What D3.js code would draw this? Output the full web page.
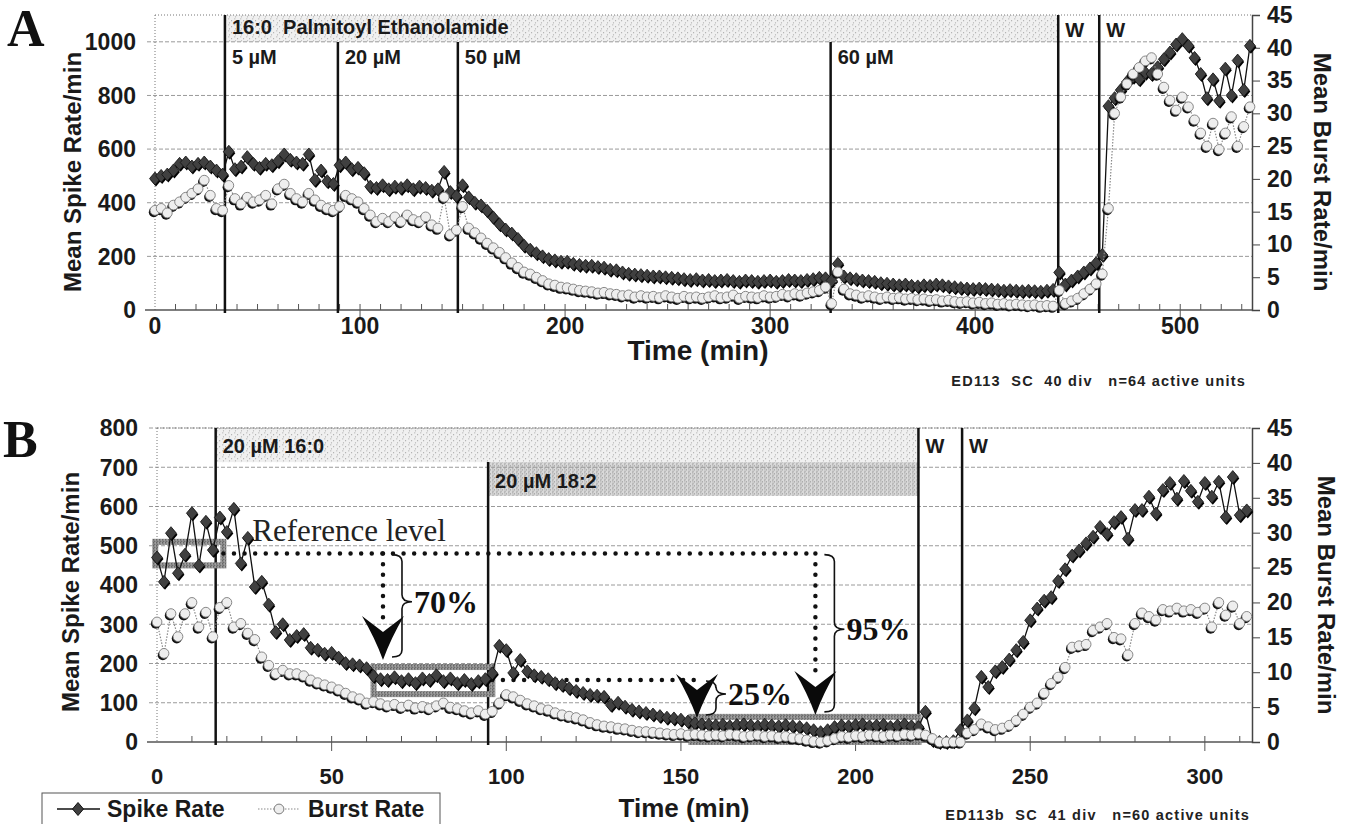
<!DOCTYPE html>
<html>
<head>
<meta charset="utf-8">
<script src="https://cdn.jsdelivr.net/npm/d3@7"></script>
<style>
  body { margin: 0; background: #fff; }
  svg { display: block; font-family: "Liberation Sans", Arial, Helvetica, sans-serif; }
</style>
</head>
<body>
<div class="chart"></div>
<script>
// ---------------- data ----------------
// panel A: one sample every 3 min, panel B: one sample every 2 min
var stepA = 3;
var stepB = 2;

// Panel A spike rate (left axis, spikes/min), t = 0 .. 534
var spikeA = [490,500,505,520,545,550,535,545,550,535,
  520,505,590,525,535,570,545,530,545,540,
  555,580,560,550,545,580,485,520,480,470,
  540,550,525,530,510,460,455,465,450,460,
  455,465,450,460,455,445,450,515,440,425,
  465,420,400,390,370,345,320,300,285,265,
  240,225,212,200,190,185,180,180,172,168,
  165,165,160,158,150,148,140,135,132,130,
  128,125,125,122,120,118,115,112,115,110,
  112,108,110,112,108,105,110,108,105,108,
  110,105,108,112,110,108,112,115,120,118,
  110,172,125,118,115,110,108,105,100,98,
  95,92,95,90,88,92,90,95,92,88,
  85,82,80,78,80,78,76,75,72,74,
  72,70,72,70,68,72,75,140,95,110,
  125,140,155,175,205,760,790,820,850,870,
  860,885,880,905,935,960,990,1010,985,940,
  880,790,860,780,900,800,930,820,985];

// Panel A burst rate (right axis, bursts/min)
var burstA = [15.2,15.5,14.8,16.0,16.5,17.2,17.8,18.5,19.8,17.5,
  15.5,15.2,19.0,17.0,16.2,17.2,16.5,16.8,17.5,16.2,
  18.5,19.2,17.8,17.0,16.5,17.8,16.8,16.0,15.5,15.2,
  15.8,17.5,17.0,16.5,15.5,14.5,13.5,14.0,13.5,14.2,
  13.5,14.5,13.8,13.5,14.2,13.0,12.5,17.2,11.5,12.2,
  15.8,12.5,11.8,11.0,10.2,9.5,8.8,8.0,7.2,6.5,
  5.8,5.5,5.0,4.5,4.0,3.8,3.5,3.4,3.2,3.0,
  2.9,2.8,2.6,2.7,2.5,2.4,2.2,2.3,2.0,2.2,
  2.0,2.1,1.9,2.2,2.0,1.8,2.1,1.9,2.0,1.8,
  2.0,2.2,1.9,2.0,2.3,1.8,2.1,2.0,1.9,2.2,
  2.0,2.1,2.4,2.2,2.5,2.3,2.6,2.8,3.0,3.5,
  1.0,5.8,3.2,2.5,2.3,2.0,2.2,2.0,1.8,2.0,
  1.8,1.9,1.7,1.8,1.6,1.7,1.5,1.6,1.4,1.5,
  1.3,1.2,1.3,1.1,1.2,1.0,1.1,0.9,1.0,0.8,
  0.9,0.8,0.7,0.8,0.6,0.7,0.6,3.0,1.0,1.4,
  1.8,2.5,3.2,4.0,5.5,15.5,30.0,32.5,34.5,36.0,
  37.0,38.0,38.5,36.0,34.0,32.0,30.5,32.5,31.0,29.0,
  27.0,25.0,28.5,24.5,27.0,29.5,25.0,28.0,31.0];

// Panel B spike rate, t = 0 .. 312
var spikeB = [470,408,532,430,477,583,450,561,489,572,
  535,594,455,520,395,408,350,280,300,260,
  270,275,240,235,225,227,215,201,198,195,
  188,168,160,158,165,155,160,150,162,158,
  170,155,162,150,158,148,155,160,175,245,
  234,176,209,180,170,166,160,150,145,137,
  130,125,120,118,115,94,100,90,82,78,
  74,70,66,62,60,57,52,48,45,44,
  42,44,40,43,45,42,40,44,42,40,
  43,40,38,35,30,25,30,38,42,40,
  43,45,40,42,44,38,42,45,40,38,
  77,5,0,0,2,30,55,86,166,140,
  180,191,210,234,255,310,340,360,369,410,
  440,475,488,506,523,548,530,560,573,518,
  591,591,625,582,642,660,620,665,640,612,
  660,625,663,573,675,578,590];

// Panel B burst rate
var burstB = [17.2,12.7,18.4,15.1,18.4,20.0,16.5,18.6,15.1,19.3,
  20.0,16.5,17.0,15.6,14.7,12.2,11.0,9.8,10.3,9.8,
  9.8,9.5,8.9,8.5,8.2,7.9,7.5,7.0,6.5,6.2,
  5.6,5.8,5.5,5.2,5.4,5.0,5.3,4.9,5.1,4.8,
  5.2,5.6,5.0,4.8,4.5,4.2,4.5,4.0,4.4,5.6,
  6.8,6.5,6.0,5.5,5.2,4.8,4.6,4.2,3.9,3.7,
  3.5,3.2,2.8,2.5,2.3,2.2,2.0,1.9,1.7,1.5,
  1.5,1.4,1.3,1.2,1.1,1.2,1.0,1.1,1.0,0.9,
  1.0,0.9,1.1,1.0,0.8,0.9,1.0,0.8,0.9,0.7,
  0.8,0.6,0.5,0.3,0.1,0.0,0.2,0.5,0.8,0.7,
  0.9,0.8,1.0,0.9,0.8,1.0,0.9,1.1,1.0,1.2,
  1.0,0.5,0.0,0.0,0.0,0.0,1.3,1.8,2.6,2.2,
  1.8,2.0,2.4,3.1,4.0,5.0,5.6,7.0,8.4,9.3,
  10.7,13.6,13.8,14.0,16.0,16.5,17.0,15.0,14.8,12.5,
  17.0,18.5,18.0,17.5,19.0,18.8,19.2,18.8,19.0,18.6,
  19.2,16.5,20.0,18.2,19.5,17.0,18.0];

// drug applications / washes (min) and their labels
var eventsA = [34.1, 89.2, 147.7, 329.5, 440.5, 460.5];
var eventLabelsA = ["5 µM", "20 µM", "50 µM", "60 µM", "W", "W"];
var eventsB = [16.8, 94.8, 218, 230.5];
var eventLabelsB = ["20 µM 16:0", "20 µM 18:2", "W", "W"];

// tick values
var leftTicksA = [0, 200, 400, 600, 800, 1000];
var leftTicksB = [0, 100, 200, 300, 400, 500, 600, 700, 800];
var rightTicks = [0, 5, 10, 15, 20, 25, 30, 35, 40, 45];
var xTicksA = [0, 100, 200, 300, 400, 500];
var xTicksB = [0, 50, 100, 150, 200, 250, 300];

// panel B annotation: boxes [t0, t1, low, high], reference levels [t0, t1, value]
var boxesB = [[-0.5, 19, 450, 510], [62, 96, 122, 191], [153, 218, 0, 64]];
var levelsB = [[19, 188.5, 480], [96, 154.6, 158]];
var dropT = [64.7, 154.6, 188.5];
var dropFrom = [480, 158, 480];
var dropTo = [209, 61, 69];
var dropPct = ["70%", "25%", "95%"];

// ---------------- drawing ----------------
var svg = d3.select(".chart").append("svg")
  .attr("width", 1353)
  .attr("height", 824);

var defs = svg.append("defs");

// speckled grey like the scanned print
function stipple(id, base, dot, size) {
  var p = defs.append("pattern")
    .attr("id", id)
    .attr("width", size).attr("height", size)
    .attr("patternUnits", "userSpaceOnUse");
  p.append("rect").attr("width", size).attr("height", size).attr("fill", base);
  [[0.8, 0.8], [size * 0.6, size * 0.45], [size * 0.25, size * 0.8]].forEach(function(c) {
    p.append("circle").attr("cx", c[0]).attr("cy", c[1]).attr("r", 0.6).attr("fill", dot);
  });
}
stipple("lightStip", "#f0f0f0", "#a9a9a9", 6);
stipple("darkStip", "#d9d9d9", "#8f8f8f", 4);
stipple("boxStip", "#a0a0a0", "#555", 3);

var serif = "'Liberation Serif', 'DejaVu Serif', 'Times New Roman', serif";
var ink = "#1a1a1a";

// squat diamond marker like the plotted one
var diamondPath = "M0,-6.5L5.5,0L0,6.5L-5.5,0Z";

function drawPanel(p) {
  var g = svg.append("g");

  var x = d3.scaleLinear().domain(p.xDomain).range([p.left, p.right]);
  var yL = d3.scaleLinear().domain(p.yDomain).range([p.bottom, p.top]);
  var yR = d3.scaleLinear().domain([0, 45]).range([p.bottom, p.top]);

  // shaded treatment bands at the top
  p.bands.forEach(function(b) {
    g.append("rect")
      .attr("x", x(b[0]))
      .attr("y", yL(b[3]))
      .attr("width", x(b[1]) - x(b[0]))
      .attr("height", yL(b[2]) - yL(b[3]))
      .attr("fill", "url(#" + b[4] + ")");
  });

  // horizontal gridlines (extend a little left = left tick marks)
  g.selectAll(".grid")
    .data(p.leftTicks.filter(function(d) { return d > 0; }))
    .enter().append("line")
    .attr("x1", p.left - 8).attr("x2", p.right)
    .attr("y1", d => yL(d)).attr("y2", d => yL(d))
    .attr("stroke", "#9a9a9a")
    .attr("stroke-width", 1)
    .attr("stroke-dasharray", "4,2");

  // top and left frame are dotted
  g.append("line")
    .attr("x1", p.left).attr("x2", p.right)
    .attr("y1", p.top).attr("y2", p.top)
    .attr("stroke", "#777").attr("stroke-dasharray", "1,2");
  g.append("line")
    .attr("x1", p.left).attr("x2", p.left)
    .attr("y1", p.top).attr("y2", p.bottom)
    .attr("stroke", "#777").attr("stroke-dasharray", "1,2");

  // left tick labels
  g.selectAll(".ylab")
    .data(p.leftTicks)
    .enter().append("text")
    .attr("x", p.left - 19)
    .attr("y", d => yL(d))
    .attr("dy", "0.36em")
    .attr("text-anchor", "end")
    .attr("font-size", 23)
    .attr("font-weight", "bold")
    .attr("fill", ink)
    .text(d => d);

  // right axis
  var yAxisR = d3.axisRight(yR).tickValues(rightTicks).tickSize(8).tickPadding(7);
  var ra = g.append("g")
    .attr("transform", "translate(" + p.right + ",0)")
    .call(yAxisR);
  ra.select(".domain").attr("stroke", "#444").attr("stroke-width", 1.5);
  ra.selectAll(".tick line").attr("stroke", "#444");
  ra.selectAll("text")
    .attr("font-size", 23)
    .attr("font-weight", "bold")
    .attr("fill", ink)
    .attr("font-family", "'Liberation Sans', Arial, sans-serif");

  // bottom axis line with minor ticks up and major ticks down
  g.append("line")
    .attr("x1", p.left - 10).attr("x2", p.right)
    .attr("y1", p.bottom).attr("y2", p.bottom)
    .attr("stroke", "#555").attr("stroke-width", 1.5);
  g.selectAll(".minor")
    .data(d3.range(10, p.xDomain[1], 10))
    .enter().append("line")
    .attr("x1", d => x(d)).attr("x2", d => x(d))
    .attr("y1", p.bottom).attr("y2", p.bottom - 6)
    .attr("stroke", "#555");
  g.selectAll(".major")
    .data(p.xTicks.filter(function(d) { return d > 0; }))
    .enter().append("line")
    .attr("x1", d => x(d)).attr("x2", d => x(d))
    .attr("y1", p.bottom).attr("y2", p.bottom + 9)
    .attr("stroke", "#555");
  g.selectAll(".xlab")
    .data(p.xTicks)
    .enter().append("text")
    .attr("x", d => x(d))
    .attr("y", p.xLabelY)
    .attr("text-anchor", "middle")
    .attr("font-size", p.xLabelSize)
    .attr("font-weight", "bold")
    .attr("fill", ink)
    .text(d => d);

  // event lines and their labels
  p.events.forEach(function(t, i) {
    g.append("line")
      .attr("x1", x(t)).attr("x2", x(t))
      .attr("y1", p.lineTops[i]).attr("y2", p.bottom + 3)
      .attr("stroke", "#111")
      .attr("stroke-width", 2.5);
    g.append("text")
      .attr("x", x(t) + 7)
      .attr("y", p.labelYs[i])
      .attr("font-size", 20)
      .attr("font-weight", "bold")
      .attr("fill", ink)
      .text(p.eventLabels[i]);
  });

  if (p.extra) p.extra(g, x, yL, yR);

  // series
  var spikeLine = d3.line()
    .x((d, i) => x(i * p.step))
    .y(d => yL(d));
  var burstLine = d3.line()
    .x((d, i) => x(i * p.step))
    .y(d => yR(d));

  g.append("path")
    .datum(p.spike)
    .attr("d", spikeLine)
    .attr("fill", "none")
    .attr("stroke", "#111")
    .attr("stroke-width", 1.3);

  g.selectAll(".spikeShadow")
    .data(p.spike)
    .enter().append("path")
    .attr("d", diamondPath)
    .attr("transform", (d, i) => "translate(" + (x(i * p.step) + 1) + "," + (yL(d) + 1.5) + ")")
    .attr("fill", "#000");
  g.selectAll(".spikeDot")
    .data(p.spike)
    .enter().append("path")
    .attr("d", diamondPath)
    .attr("transform", (d, i) => "translate(" + x(i * p.step) + "," + yL(d) + ")")
    .attr("fill", "#404040")
    .attr("stroke", "#111")
    .attr("stroke-width", 0.8);

  g.append("path")
    .datum(p.burst)
    .attr("d", burstLine)
    .attr("fill", "none")
    .attr("stroke", "#8a8a8a")
    .attr("stroke-width", 1.2)
    .attr("stroke-dasharray", "1.5,1.5");

  g.selectAll(".burstShadow")
    .data(p.burst)
    .enter().append("circle")
    .attr("cx", (d, i) => x(i * p.step) - 1.2)
    .attr("cy", d => yR(d) + 1.8)
    .attr("r", 5)
    .attr("fill", "#111");
  g.selectAll(".burstDot")
    .data(p.burst)
    .enter().append("circle")
    .attr("cx", (d, i) => x(i * p.step))
    .attr("cy", d => yR(d))
    .attr("r", 4.9)
    .attr("fill", "#eeeeee")
    .attr("stroke", "#7c7c7c")
    .attr("stroke-width", 0.9);

  // axis titles
  g.append("text")
    .attr("transform", "translate(" + p.leftTitle[0] + "," + p.leftTitle[1] + ") rotate(-90)")
    .attr("text-anchor", "middle")
    .attr("dominant-baseline", "central")
    .attr("font-size", 24)
    .attr("font-weight", "bold")
    .attr("fill", ink)
    .text("Mean Spike Rate/min");
  g.append("text")
    .attr("transform", "translate(" + p.rightTitle[0] + "," + p.rightTitle[1] + ") rotate(90)")
    .attr("text-anchor", "middle")
    .attr("dominant-baseline", "central")
    .attr("font-size", 24)
    .attr("font-weight", "bold")
    .attr("fill", ink)
    .text("Mean Burst Rate/min");
  g.append("text")
    .attr("x", p.timeTitle[0])
    .attr("y", p.timeTitle[1])
    .attr("text-anchor", "middle")
    .attr("font-size", p.timeSize)
    .attr("font-weight", "bold")
    .attr("fill", ink)
    .text("Time (min)");
  g.append("text")
    .attr("x", p.note[0])
    .attr("y", p.note[1])
    .attr("text-anchor", "end")
    .attr("font-size", 14.5)
    .attr("font-weight", "bold")
    .attr("letter-spacing", 1.2)
    .attr("fill", "#222")
    .attr("xml:space", "preserve")
    .style("white-space", "pre")
    .text(p.noteText);
  g.append("text")
    .attr("x", p.letter[0])
    .attr("y", p.letter[1])
    .attr("font-family", serif)
    .attr("font-size", 52)
    .attr("font-weight", "bold")
    .attr("fill", "#111")
    .text(p.letterText);
}

// ---------- panel A ----------
drawPanel({
  xDomain: [0, 535], yDomain: [0, 1100],
  left: 155, right: 1252, top: 15, bottom: 310,
  step: stepA, spike: spikeA, burst: burstA,
  leftTicks: leftTicksA, xTicks: xTicksA, xLabelY: 334, xLabelSize: 23,
  bands: [[eventsA[0], eventsA[4], 1000, 1100, "lightStip"]],
  events: eventsA, eventLabels: eventLabelsA,
  lineTops: [15, 42, 42, 42, 15, 15],
  labelYs: [64, 64, 64, 64, 37, 37],
  leftTitle: [72, 172], rightTitle: [1322, 172],
  timeTitle: [698, 360], timeSize: 28, note: [1246, 386],
  noteText: "ED113  SC  40 div   n=64 active units",
  letter: [7, 46], letterText: "A",
  extra: function(g, x, yL) {
    g.append("text")
      .attr("x", x(eventsA[0]) + 7)
      .attr("y", 34)
      .attr("font-size", 20)
      .attr("font-weight", "bold")
      .attr("fill", ink)
      .attr("xml:space", "preserve")
      .style("white-space", "pre")
      .text("16:0  Palmitoyl Ethanolamide");
  }
});

// ---------- panel B ----------
drawPanel({
  xDomain: [0, 313.5], yDomain: [0, 800],
  left: 157, right: 1252, top: 428, bottom: 742,
  step: stepB, spike: spikeB, burst: burstB,
  leftTicks: leftTicksB, xTicks: xTicksB, xLabelY: 784, xLabelSize: 22,
  bands: [[eventsB[0], eventsB[2], 713, 800, "lightStip"],
          [eventsB[1], eventsB[2], 627, 713, "darkStip"]],
  events: eventsB, eventLabels: eventLabelsB,
  lineTops: [428, 462, 428, 428],
  labelYs: [453, 488, 453, 453],
  leftTitle: [70, 592], rightTitle: [1326, 595],
  timeTitle: [684, 817], timeSize: 26, note: [1250, 820],
  noteText: "ED113b  SC  41 div   n=60 active units",
  letter: [3, 457], letterText: "B",
  extra: function(g, x, yL) {
    // grey boxes round the averaged stretches
    boxesB.forEach(function(b) {
      g.append("rect")
        .attr("x", x(b[0])).attr("y", yL(b[3]))
        .attr("width", x(b[1]) - x(b[0]))
        .attr("height", yL(b[2]) - yL(b[3]))
        .attr("fill", "none")
        .attr("stroke", "url(#boxStip)")
        .attr("stroke-width", 6);
    });
    // dotted reference levels
    levelsB.forEach(function(l) {
      g.append("line")
        .attr("x1", x(l[0])).attr("x2", x(l[1]))
        .attr("y1", yL(l[2])).attr("y2", yL(l[2]))
        .attr("stroke", "#111").attr("stroke-width", 4.5)
        .attr("stroke-linecap", "round")
        .attr("stroke-dasharray", "0,10.6");
    });
    g.append("text")
      .attr("x", x(levelsB[0][0]) + 29)
      .attr("y", yL(levelsB[0][2]) - 13)
      .attr("font-family", serif)
      .attr("font-size", 31)
      .attr("fill", "#222")
      .text("Reference level");

    dropT.forEach(function(t, i) {
      var ax = x(t), tip = yL(dropTo[i]), top = yL(dropFrom[i]);
      // vertical dotted drop
      if (tip - 42 - top > 10) {
        g.append("line")
          .attr("x1", ax).attr("x2", ax)
          .attr("y1", top).attr("y2", tip - 38)
          .attr("stroke", "#111").attr("stroke-width", 4.5)
          .attr("stroke-linecap", "round")
          .attr("stroke-dasharray", "0,10.6");
      }
      // swept arrowhead
      g.append("path")
        .attr("d", "M" + (ax - 21) + "," + (tip - 44) +
          " Q" + (ax - 8) + "," + (tip - 22) + " " + ax + "," + tip +
          " Q" + (ax + 8) + "," + (tip - 22) + " " + (ax + 21) + "," + (tip - 44) +
          " L" + ax + "," + (tip - 28) + " Z")
        .attr("fill", "#0a0a0a");
      // curly brace
      var bx = ax + 9, y0 = top + 1, y1 = tip - 3, ym = (y0 + y1) / 2 - 4, w = 20, r = 7;
      g.append("path")
        .attr("d", "M" + bx + "," + y0 +
          " Q" + (bx + w / 2) + "," + y0 + " " + (bx + w / 2) + "," + (y0 + r) +
          " L" + (bx + w / 2) + "," + (ym - r) +
          " Q" + (bx + w / 2) + "," + ym + " " + (bx + w) + "," + ym +
          " Q" + (bx + w / 2) + "," + ym + " " + (bx + w / 2) + "," + (ym + r) +
          " L" + (bx + w / 2) + "," + (y1 - r) +
          " Q" + (bx + w / 2) + "," + y1 + " " + bx + "," + y1)
        .attr("fill", "none")
        .attr("stroke", "#111")
        .attr("stroke-width", 1.6);
      g.append("text")
        .attr("x", bx + w + 2)
        .attr("y", ym + 11)
        .attr("font-family", serif)
        .attr("font-size", 32)
        .attr("font-weight", "bold")
        .attr("fill", "#111")
        .text(dropPct[i]);
    });
  }
});

// ---------- legend ----------
var legend = svg.append("g");
legend.append("rect")
  .attr("x", 42).attr("y", 793)
  .attr("width", 398).attr("height", 34)
  .attr("fill", "#fff")
  .attr("stroke", "#555");
legend.append("line")
  .attr("x1", 57).attr("x2", 100).attr("y1", 809).attr("y2", 809)
  .attr("stroke", "#111").attr("stroke-width", 1.4);
legend.append("path")
  .attr("d", diamondPath)
  .attr("transform", "translate(78,809)")
  .attr("fill", "#404040").attr("stroke", "#111");
legend.append("text")
  .attr("x", 107).attr("y", 817)
  .attr("font-size", 23).attr("font-weight", "bold").attr("fill", ink)
  .text("Spike Rate");
legend.append("line")
  .attr("x1", 258).attr("x2", 300).attr("y1", 809).attr("y2", 809)
  .attr("stroke", "#8a8a8a").attr("stroke-width", 1.2).attr("stroke-dasharray", "1.5,1.5");
legend.append("circle")
  .attr("cx", 279).attr("cy", 809).attr("r", 4.9)
  .attr("fill", "#eeeeee").attr("stroke", "#7c7c7c");
legend.append("text")
  .attr("x", 308).attr("y", 817)
  .attr("font-size", 23).attr("font-weight", "bold").attr("fill", ink)
  .text("Burst Rate");
</script>
</body>
</html>
